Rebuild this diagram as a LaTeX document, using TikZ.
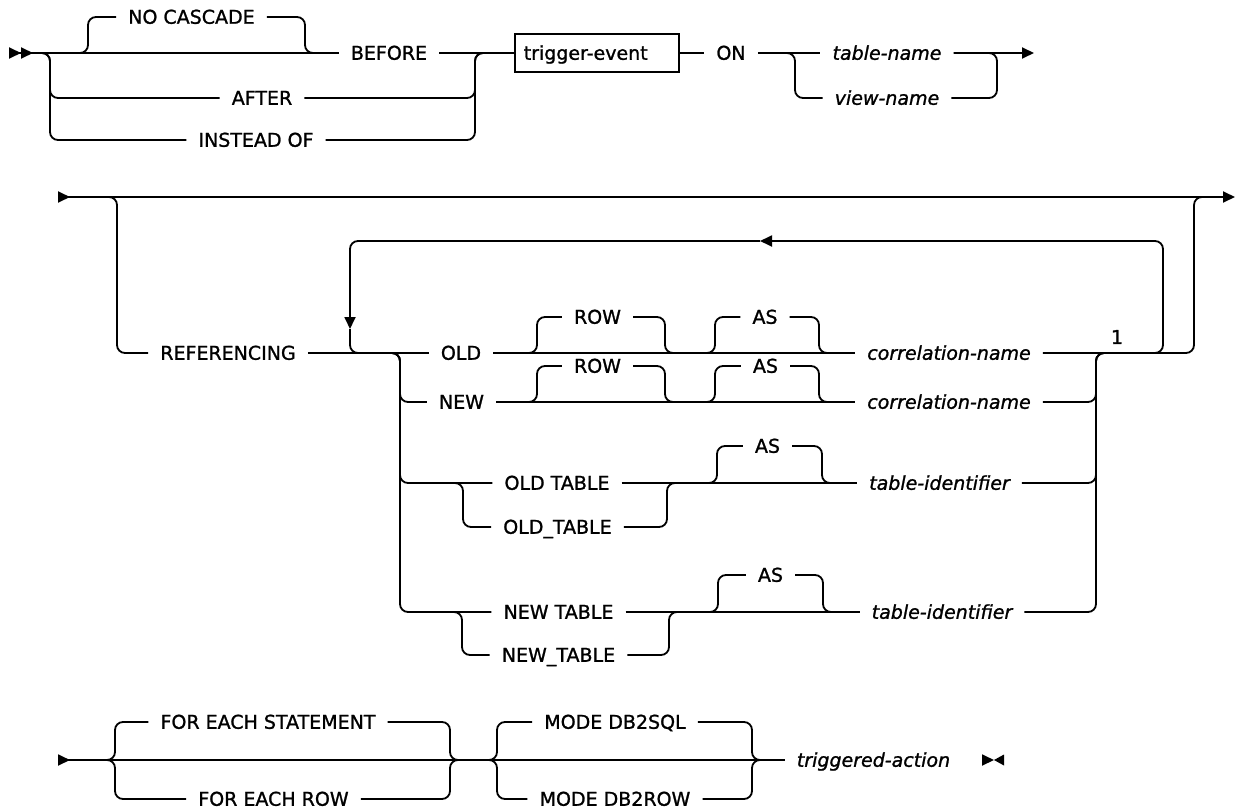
\documentclass[tikz,border=0pt]{standalone}
\usepackage{fontspec}
\setmainfont{DejaVu Sans}[FakeBold=1.2]
\usetikzlibrary{arrows.meta, calc}

\begin{document}
\begin{tikzpicture}[
    x=1pt, y=-1pt, font=\fontsize{19}{23}\selectfont,
    rt/.tip={Triangle[length=12pt, width=11pt]},
    rtr/.tip={Triangle[length=12pt, width=11pt, reversed]},
    track/.style={line width=1.8pt, rounded corners=8pt},
    kw/.style={inner xsep=12pt, inner ysep=2pt, text height=13.5pt, text depth=0pt},
    var/.style={kw, font=\fontsize{19}{23}\selectfont\itshape},
    box/.style={draw, line width=1.5pt, anchor=west, text width=146pt, align=left,
      inner xsep=9pt, minimum height=38pt, text height=13.5pt, text depth=0pt},
  ]
    \useasboundingbox (0,0) rectangle (1236,808);
    % --- row 1: trigger time, event, table ---
    \node[kw] (nocasc) at (191.5,17) {NO CASCADE};
    \node[kw] (before) at (389,53) {BEFORE};
    \node[kw] (after) at (262,98) {AFTER};
    \node[kw] (instead) at (256,140) {INSTEAD OF};
    \node[box] (tevent) at (514,53) {trigger-event};
    \node[kw] (on) at (731,53) {ON};
    \node[var] (tname) at (887,53) {table-name};
    \node[var] (vname) at (887,98) {view-name};
    \coordinate (r1start) at (9,53);
    \coordinate (r1cl) at (795,53);
    \coordinate (r1cr) at (997,53);
    \coordinate (r1end) at (1034,53);
    \draw[track, arrows={rtr[]rtr[]-}] (r1start) -- (before.west);
    \draw[track] (before.east) -- (tevent.west);
    \draw[track] (tevent.east) -- (on.west);
    \draw[track] (on.east) -- (tname.west);
    \draw[track, -rt] (tname.east) -- (r1end);
    \draw[track] ($(r1cl)+(-10,0)$) -- (r1cl) |- (vname.west);
    \draw[track] (tname.east) -- (r1cr) |- (vname.east);
    % --- row 2: referencing clause ---
    \node[kw] (ref) at (228,353) {REFERENCING};
    \node[kw] (old) at (461,353) {OLD};
    \node[kw] (rowa) at (597.5,317) {ROW};
    \node[kw] (asa) at (765,317) {AS};
    \node[var] (corra) at (949,353) {correlation-name};
    \node[inner sep=0pt] (one) at (1117,337) {1};
    \node[kw] (new) at (461.5,402) {NEW};
    \node[kw] (rowb) at (597.5,366) {ROW};
    \node[kw] (asb) at (765.5,366) {AS};
    \node[var] (corrb) at (949,402) {correlation-name};
    \node[kw] (oldt) at (557,483) {OLD TABLE};
    \node[kw] (oldtu) at (557.5,527) {OLD\_TABLE};
    \node[kw] (asc) at (767.5,446) {AS};
    \node[var] (tida) at (939.5,483) {table-identifier};
    \node[kw] (newt) at (558.5,612) {NEW TABLE};
    \node[kw] (newtu) at (558.5,655) {NEW\_TABLE};
    \node[kw] (asd) at (770.5,575) {AS};
    \node[var] (tidb) at (942,612) {table-identifier};
    \coordinate (r2start) at (58,197);
    \coordinate (r2end) at (1235,197);
    \coordinate (r2l) at (117,197);
    \coordinate (r2r) at (1194,197);
    \coordinate (lpl) at (350,241);
    \coordinate (lpr) at (1163,241);
    \coordinate (lpa) at (760,241);
    \coordinate (lpd) at (350,329);
    \draw[track, rtr-rt] (r2start) -- (r2end);
    \draw[track] ($(r2l)+(-10,0)$) -- (r2l) |- (ref.west);
    \draw[track] (ref.east) -- (old.west);
    \draw[track] (old.east) -- (corra.west);
    \draw[track] (corra.east) -| (r2r) -- ($(r2r)+(12,0)$);
    \draw[track] (new.east) -- (corrb.west);
    \draw[track] (oldt.east) -- (tida.west);
    \draw[track] (newt.east) -- (tidb.west);
    % repeat loop
    \draw[track, -rt] ($(lpr |- corra)+(-12,0)$) -- (lpr |- corra) -- (lpr) -- (lpa);
    \draw[track, -rt] (lpa) -- (lpl) -- (lpd);
    \draw[track] (lpd) -- (lpl |- ref) -- ($(lpl |- ref)+(14,0)$);
    % --- row 3: granularity, mode, action ---
    \node[kw] (fes) at (268,722) {FOR EACH STATEMENT};
    \node[kw] (fer) at (273.5,799) {FOR EACH ROW};
    \node[kw] (mds) at (615,722) {MODE DB2SQL};
    \node[kw] (mdr) at (615,799) {MODE DB2ROW};
    \node[var] (ta) at (873.5,760) {triggered-action};
    \coordinate (r3start) at (58,760);
    \coordinate (r3fin) at (983,760);
    \coordinate (r3end) at (994,760);
    \draw[track, rtr-] (r3start) -- (ta.west);
    \draw[track, -rt] (r3fin) -- (r3end);
    \fill ($(r3end)+(10,-5.5)$) -- (r3end) -- ($(r3end)+(10,5.5)$) -- cycle;
    % --- branches: left node / right node / left x / right x / main y ---
    \foreach \a/\b/\xl/\xr/\ym in {nocasc/nocasc/88/305/53, after/after/50/475/53,
        instead/instead/50/475/53,
        new/corrb/400/1096/353, oldt/tida/400/1096/353, newt/tidb/400/1096/353,
        oldtu/oldtu/463/667/483, newtu/newtu/462/669/612,
        rowa/rowa/537/665/353, asa/asa/715/819/353, rowb/rowb/537/665/402,
        asb/asb/715/819/402, asc/asc/717/822/483, asd/asd/718/823/612,
        fes/fes/115/450/760, fer/fer/115/450/760, mds/mds/497/752/760, mdr/mdr/497/752/760}{
      \draw[track] (\xl-10,\ym) -- (\xl,\ym) |- (\a.west);
      \draw[track] (\b.east) -| (\xr,\ym) -- (\xr+10,\ym);
    }
  \end{tikzpicture}
\end{document}
